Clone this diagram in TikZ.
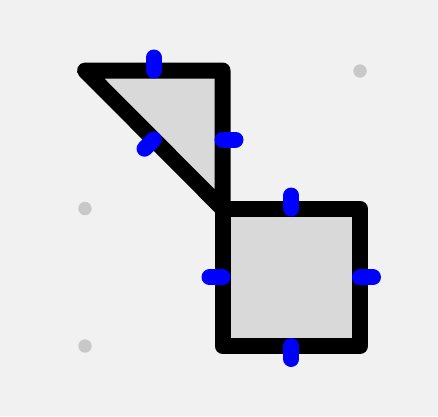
\documentclass[tikz,border=0pt]{standalone}
\usetikzlibrary{calc}
\begin{document}
\begin{tikzpicture}[x=1pt,y=-1pt,
  shapeline/.style={draw=black,line width=16pt,line join=round,fill=shapefill},
  tick/.style={draw=tickblue,line width=16pt,line cap=round},
  griddot/.style={fill=dotgray}]
\definecolor{shapefill}{HTML}{D9D9D9}
\definecolor{tickblue}{HTML}{0000FF}
\definecolor{dotgray}{HTML}{C8C8C8}
\definecolor{paper}{HTML}{F1F1F1}
\fill[paper] (0,0) rectangle (438,416);
\useasboundingbox (0,0) rectangle (438,416);
% grid dots
\fill[griddot] (360,71) circle (6.7);
\fill[griddot] (85,208.5) circle (6.7);
\fill[griddot] (85,346) circle (6.7);
% vertices
\coordinate (A) at (85,70.5);
\coordinate (B) at (222.5,70.5);
\coordinate (C) at (222.5,208.5);
\coordinate (D) at (360,208.5);
\coordinate (E) at (360,346);
\coordinate (F) at (222.5,346);
% shapes
\draw[shapeline] (A) -- (B) -- (C) -- cycle;
\draw[shapeline] (C) -- (D) -- (E) -- (F) -- cycle;
% ticks (outward from edge midpoints)
\draw[tick] ($(A)!0.5!(B)$) -- ++(0,-13);
\draw[tick] ($(B)!0.5!(C)$) -- ++(13,0);
\draw[tick] ($(A)!0.5!(C)$) -- ++(-9.2,9.2);
\draw[tick] ($(C)!0.5!(D)$) -- ++(0,-13);
\draw[tick] ($(D)!0.5!(E)$) -- ++(13,0);
\draw[tick] ($(E)!0.5!(F)$) -- ++(0,13);
\draw[tick] ($(F)!0.5!(C)$) -- ++(-13,0);
\end{tikzpicture}
\end{document}
